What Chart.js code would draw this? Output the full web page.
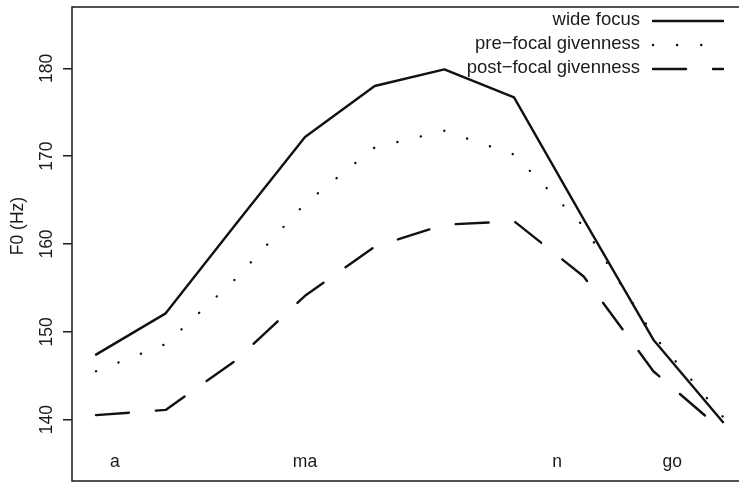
<!DOCTYPE html>
<html>
<head>
<meta charset="utf-8">
<script src="https://cdn.jsdelivr.net/npm/chart.js@4/dist/chart.umd.min.js"></script>
<style>
  html, body { margin: 0; padding: 0; background: #fff; }
  #wrap { width: 739px; height: 483px; }
</style>
</head>
<body>
<div id="wrap"><canvas id="chart" width="739" height="483"></canvas></div>
<script>
// posiciones de las muestras (1..10)
const muestras = [1, 2, 3, 4, 5, 6, 7, 8, 9, 10];

// F0 en Hz
const wideFocus = [147.4, 152.1, 162.2, 172.2, 178.0, 179.9, 176.7, 162.8, 149.1, 139.7];
const preFocal = [145.5, 148.6, 156.0, 164.6, 171.0, 172.9, 170.2, 162.0, 149.6, 140.3];
const postFocal = [140.5, 141.1, 146.7, 154.1, 159.7, 162.2, 162.6, 156.3, 145.5, 138.7];

const nombresSeries = ['wide focus', 'pre\u2212focal givenness', 'post\u2212focal givenness'];

// eje y
const yTicks = [140, 150, 160, 170, 180];
const yMin = 133;
const yMax = 187;

// silabas debajo de las curvas
const silabas = ['a', 'ma', 'n', 'go'];
const silabasX = [1.27, 4, 7.62, 9.27];
const silabasY = 135.1;

const tinta = '#1a1a1a';
const fuente = '17.5px "Liberation Sans", Arial, sans-serif';
const fuenteLeyenda = '18.5px "Liberation Sans", Arial, sans-serif';

function puntos(valores) {
    return muestras.map((x, i) => ({ x: x, y: valores[i] }));
}

// dibuja caja, etiquetas y leyenda al estilo de R
const estiloR = {
    id: 'estiloR',
    afterDraw(chart) {
        const ctx = chart.ctx;
        const area = chart.chartArea;
        const sx = chart.scales.x;
        const sy = chart.scales.y;

        ctx.save();
        // la caja sigue mas alla del borde derecho (recortada en la imagen)
        ctx.strokeStyle = tinta;
        ctx.lineWidth = 1.5;
        ctx.strokeRect(area.left, area.top, area.right - area.left + 6, area.bottom - area.top);

        ctx.fillStyle = tinta;
        ctx.font = fuente;
        ctx.textAlign = 'center';
        ctx.textBaseline = 'middle';

        // etiquetas del eje y, giradas
        yTicks.forEach(v => {
            ctx.save();
            ctx.translate(47, sy.getPixelForValue(v));
            ctx.rotate(-Math.PI / 2);
            ctx.fillText(String(v), 0, 0);
            ctx.restore();
        });

        // titulo del eje
        ctx.save();
        ctx.translate(18, (area.top + area.bottom) / 2 - 18);
        ctx.rotate(-Math.PI / 2);
        ctx.fillText('F0 (Hz)', 0, 0);
        ctx.restore();

        // silabas
        silabas.forEach((s, i) => {
            ctx.fillText(s, sx.getPixelForValue(silabasX[i]), sy.getPixelForValue(silabasY));
        });

        // leyenda: texto alineado a la derecha, luego la muestra de linea
        const xTexto = 640;
        const x0 = 653;
        const x1 = 723;
        ctx.font = fuenteLeyenda;
        ctx.textAlign = 'right';
        chart.data.datasets.forEach((ds, i) => {
            const y = 20 + i * 24;
            ctx.fillText(ds.label, xTexto, y);
            ctx.save();
            ctx.strokeStyle = ds.borderColor;
            ctx.lineWidth = ds.borderWidth;
            ctx.lineCap = ds.borderCapStyle;
            ctx.setLineDash(ds.borderDash);
            ctx.beginPath();
            ctx.moveTo(x0, y + 1);
            ctx.lineTo(x1, y + 1);
            ctx.stroke();
            ctx.restore();
        });
        ctx.restore();
    }
};

const ctx = document.getElementById('chart').getContext('2d');

const myChart = new Chart(ctx, {
    type: 'line',
    data: {
        datasets: [{
            label: nombresSeries[0],
            data: puntos(wideFocus),
            borderColor: '#111',
            borderWidth: 2.4,
            borderDash: [],
            borderCapStyle: 'round'
        }, {
            label: nombresSeries[1],
            data: puntos(preFocal),
            borderColor: '#111',
            borderWidth: 2.4,
            borderDash: [0.1, 24],
            borderCapStyle: 'round'
        }, {
            label: nombresSeries[2],
            data: puntos(postFocal),
            borderColor: '#111',
            borderWidth: 2.4,
            borderDash: [33, 27],
            borderCapStyle: 'round'
        }]
    },
    options: {
        responsive: false,
        animation: false,
        layout: { padding: { top: 7, right: 0, bottom: 2, left: 0 } },
        elements: {
            point: { radius: 0 },
            line: { tension: 0, fill: false, borderJoinStyle: 'round' }
        },
        plugins: {
            legend: { display: false },
            tooltip: { enabled: false }
        },
        scales: {
            x: {
                type: 'linear',
                min: 0.6555,
                max: 10.229,
                display: false
            },
            y: {
                type: 'linear',
                position: 'left',
                min: yMin,
                max: yMax,
                afterBuildTicks: scale => {
                    scale.ticks = yTicks.map(v => ({ value: v }));
                },
                afterFit: scale => {
                    scale.width = 72;
                },
                ticks: { display: false },
                border: { display: false },
                grid: {
                    drawOnChartArea: false,
                    drawTicks: true,
                    tickLength: 9,
                    color: tinta,
                    lineWidth: 1.5
                }
            }
        }
    },
    plugins: [estiloR]
});
</script>
</body>
</html>
